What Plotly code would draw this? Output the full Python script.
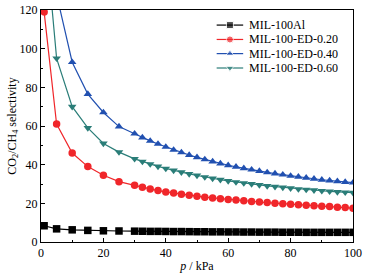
import plotly.graph_objects as go

p = [1, 5, 10, 15, 20, 25, 30, 32.5, 35, 37.5, 40, 42.5, 45, 47.5, 50, 52.5, 55, 57.5,
     60, 62.5, 65, 67.5, 70, 72.5, 75, 77.5, 80, 82.5, 85, 87.5, 90, 92.5, 95, 97.5, 100]

mil100al = [8.4, 6.8, 6.3, 6.0, 5.8, 5.7, 5.6, 5.55, 5.5, 5.5, 5.45, 5.4, 5.4, 5.35, 5.3, 5.3,
            5.25, 5.25, 5.2, 5.2, 5.15, 5.15, 5.1, 5.1, 5.1, 5.05, 5.05, 5.05, 5.0, 5.0, 5.0,
            5.0, 5.0, 5.0, 5.0]
ed020 = [119, 61, 46, 39, 34.5, 31.2, 29.3, 28.3, 27.4, 26.6, 25.9, 25.3, 24.7, 24.2, 23.7,
         23.2, 22.8, 22.4, 22.0, 21.7, 21.3, 21.0, 20.7, 20.4, 20.1, 19.8, 19.5, 19.3, 19.0,
         18.8, 18.5, 18.3, 18.0, 17.8, 17.5]
ed040 = [300, 128, 93, 76.5, 67, 59.7, 56, 54, 52.3, 50.7, 49.2, 47.6, 46.3, 45, 43.8, 42.7,
         41.6, 40.6, 39.7, 38.9, 38.1, 37.4, 36.7, 36, 35.4, 34.8, 34.2, 33.7, 33.2, 32.7,
         32.2, 31.8, 31.4, 31, 30.7]
ed060 = [166, 95, 70, 59, 51, 46.5, 43, 41.6, 40.3, 39.1, 38, 37, 36.1, 35.2, 34.4, 33.6,
         32.9, 32.2, 31.6, 31, 30.5, 30, 29.5, 29, 28.6, 28.2, 27.8, 27.4, 27.1, 26.8, 26.5,
         26.2, 25.9, 25.7, 25.5]

names = ["MIL-100Al", "MIL-100-ED-0.20", "MIL-100-ED-0.40", "MIL-100-ED-0.60"]
values = [mil100al, ed020, ed040, ed060]
colors = ["#000000", "#f0262a", "#2150b0", "#2a7d78"]
symbols = ["square", "circle", "triangle-up", "triangle-down"]

font = "Liberation Serif, Times New Roman, serif"

fig = go.Figure()
for name, y, color, sym in zip(names, values, colors, symbols):
    fig.add_trace(go.Scatter(
        x=p, y=y, name=name, mode="lines+markers", showlegend=False,
        line=dict(color=color, width=1.2),
        marker=dict(symbol=sym, size=7.5, color=color),
    ))

# hand-drawn legend (plotly's legend rows are too tall), on an overlay 0-1 axis
leg_x0, leg_x1, leg_tx = 0.563, 0.648, 0.66
leg_y = [0.935, 0.873, 0.812, 0.75]
for name, color, sym, yy in zip(names, colors, symbols, leg_y):
    fig.add_trace(go.Scatter(
        x=[leg_x0, (leg_x0 + leg_x1) / 2, leg_x1], y=[yy, yy, yy],
        xaxis="x2", yaxis="y2", mode="lines+markers", showlegend=False,
        line=dict(color=color, width=1.2), hoverinfo="skip",
        marker=dict(symbol=sym, size=[0, 7, 0], color=color),
    ))
    fig.add_annotation(x=leg_tx, y=yy, xref="x2", yref="y2", text=name, showarrow=False,
                       xanchor="left", yanchor="middle",
                       font=dict(family=font, size=12, color="black"))

axis_common = dict(
    showline=True, linecolor="black", linewidth=1, mirror=True, automargin=False,
    ticks="inside", ticklen=4, tickcolor="black", showgrid=False, zeroline=False,
    tickfont=dict(family=font, size=12, color="black"),
    minor=dict(ticks="inside", ticklen=2, tickcolor="black", dtick=10),
)
fig.update_xaxes(range=[0, 100], dtick=20, **axis_common,
                 title=dict(text="<i>p</i> / kPa", font=dict(family=font, size=12, color="black"),
                            standoff=2))
fig.update_yaxes(range=[0, 120], dtick=20, **axis_common,
                 title=dict(text="CO<sub>2</sub>/CH<sub>4</sub> selectivity",
                            font=dict(family=font, size=12, color="black"), standoff=0))

fig.update_layout(
    width=367, height=274,
    margin=dict(l=41, r=14, t=10, b=32),
    plot_bgcolor="white", paper_bgcolor="white",
    xaxis2=dict(overlaying="x", range=[0, 1], visible=False, fixedrange=True),
    yaxis2=dict(overlaying="y", range=[0, 1], visible=False, fixedrange=True),
)

fig.write_html("out.html", config={"displayModeBar": False},
               post_script="document.body.style.margin='0';")
